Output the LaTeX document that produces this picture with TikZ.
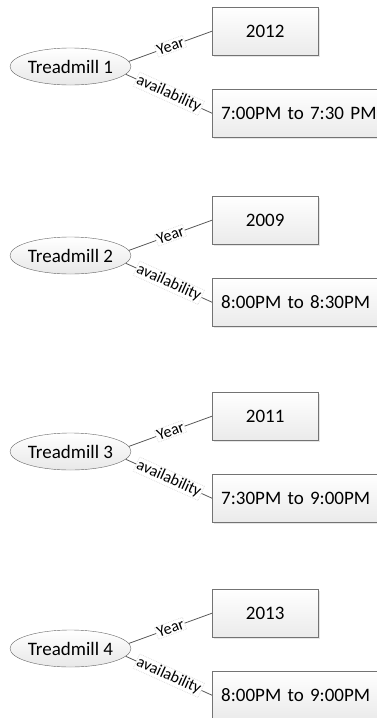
\documentclass[tikz,border=0pt]{standalone}
\usepackage{fontspec}
\setmainfont{Carlito}
\usepackage{tikz}
\usetikzlibrary{shapes.geometric, shadows}

\begin{document}
\begin{tikzpicture}[x=1pt, y=-1pt,
    thing/.style={ellipse, draw=black!60, top color=white, bottom color=black!9,
        minimum width=121pt, minimum height=37pt, inner sep=0pt,
        font=\fontsize{19pt}{22pt}\selectfont},
    valbox/.style={rectangle, draw=black!55, top color=white, bottom color=black!8,
        drop shadow={shadow xshift=1.5pt, shadow yshift=-1.5pt, opacity=0.2},
        minimum height=48pt, font=\fontsize{19pt}{22pt}\selectfont},
    link/.style={draw=black!65, line width=0.8pt},
    lbl/.style={sloped, fill=white, draw=black!12, densely dotted, inner sep=1pt,
        text=black, font=\fontsize{16pt}{18pt}\selectfont}]
    \useasboundingbox (0,0) rectangle (377,718);
    \clip (0,0) rectangle (377,718);
    \foreach \i/\dy/\yr/\tm in {1/0/2012/7:00PM to 7:30 PM,
                                2/189/2009/8:00PM to 8:30PM,
                                3/385/2011/7:30PM to 9:00PM,
                                4/582/2013/8:00PM to 9:00PM} {
        \node[thing] (tm\i) at (70.5,66.5+\dy) {Treadmill \i};
        \node[valbox, anchor=north west, minimum width=106pt] (yr\i) at (212,7+\dy) {\yr};
        \node[valbox, anchor=north west, text width=170pt, inner xsep=9pt, align=left]
            (av\i) at (212,89+\dy) {\tm};
        \draw[link] (tm\i.5) -- node[lbl] {Year} (yr\i.west);
        \draw[link] (tm\i.-8) -- node[lbl] {availability} (av\i.west);
    }
\end{tikzpicture}
\end{document}
